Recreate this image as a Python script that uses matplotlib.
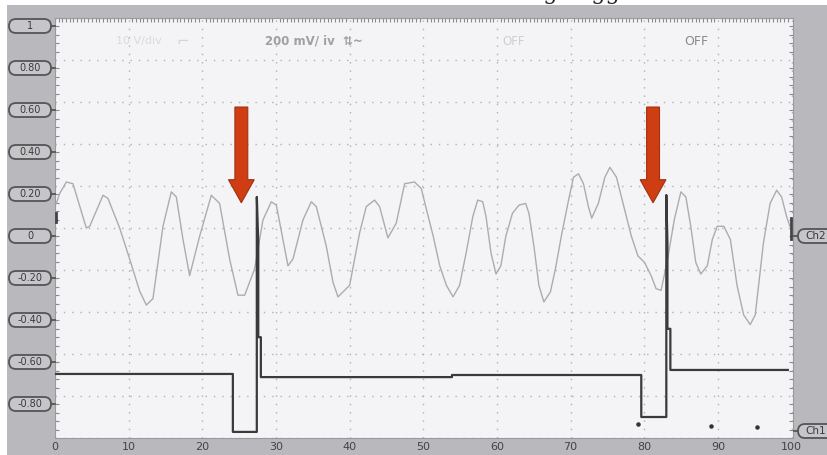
import numpy as np
import matplotlib
matplotlib.use('Agg')
import matplotlib.pyplot as plt
from matplotlib.patches import FancyBboxPatch, FancyArrow, Rectangle
from matplotlib.ticker import MultipleLocator
import matplotlib.transforms as mtransforms

W, H = 828, 455

# Ch2: light grey wavy signal (time in grid units, volts)
ch2_t = [0.18, 0.63, 1.54, 2.44, 4.25, 4.71, 6.52, 7.19, 8.78, 10.14, 11.49, 12.40, 13.30,
         14.66, 15.79, 16.47, 17.38, 18.28, 19.64, 21.22, 22.35, 23.71, 24.84, 25.75, 27.10,
         27.78, 28.24, 29.37, 30.05, 30.95, 31.63, 32.31, 33.67, 34.80, 35.48, 36.83, 37.74,
         38.42, 40.00, 41.36, 42.26, 43.39, 44.07, 45.20, 46.33, 47.47, 48.82, 49.73, 50.45,
         51.35, 52.24, 53.14, 54.04, 54.93, 55.83, 56.73, 57.40, 58.07, 58.52, 59.19, 59.87,
         60.54, 61.21, 62.11, 63.00, 63.90, 64.35, 65.02, 65.70, 66.37, 67.26, 67.94, 68.83,
         69.73, 70.40, 71.08, 71.75, 72.42, 72.87, 73.77, 74.66, 75.34, 76.23, 77.35, 78.25,
         79.15, 80.04, 80.94, 81.61, 82.29, 83.18, 84.08, 84.98, 85.65, 86.32, 87.00, 87.67,
         88.57, 89.24, 89.91, 90.81, 91.70, 92.60, 93.50, 94.39, 95.07, 96.19, 97.09, 97.98,
         98.65, 99.33, 99.78]
ch2_v = [0.117, 0.164, 0.219, 0.211, 0.0, 0.008, 0.156, 0.141, 0.0, -0.148, -0.30, -0.367, -0.336,
         0.008, 0.172, 0.148, -0.055, -0.227, -0.039, 0.156, 0.117, -0.148, -0.32, -0.32, -0.195,
         -0.055, 0.039, 0.125, 0.109, -0.055, -0.18, -0.148, 0.039, 0.125, 0.102, -0.086, -0.258,
         -0.328, -0.273, -0.023, 0.102, 0.133, 0.102, -0.047, 0.023, 0.211, 0.219, 0.188, 0.086,
         -0.039, -0.18, -0.273, -0.328, -0.273, -0.117, 0.055, 0.133, 0.125, 0.055, -0.117, -0.219,
         -0.18, -0.039, 0.070, 0.109, 0.117, 0.070, -0.086, -0.273, -0.352, -0.305, -0.195, -0.023,
         0.133, 0.242, 0.258, 0.211, 0.102, 0.047, 0.117, 0.242, 0.289, 0.242, 0.086, -0.039,
         -0.133, -0.164, -0.227, -0.289, -0.297, -0.148, 0.039, 0.172, 0.148, 0.008, -0.164, -0.219,
         -0.18, -0.055, 0.008, 0.008, -0.055, -0.273, -0.414, -0.46, -0.414, -0.07, 0.117, 0.18,
         0.148, 0.055, 0.008]

# Ch1: dark square trigger signal
ch1_t = [0, 24.15, 24.15, 27.4, 27.4, 27.6, 27.6, 27.95, 27.95, 53.9, 53.9, 79.6, 79.6,
         83.0, 83.0, 83.15, 83.15, 83.55, 83.55, 99.5]
ch1_v = [-0.695, -0.695, -0.971, -0.971, 0.148, -0.07, -0.52, -0.52, -0.71, -0.71, -0.70,
         -0.70, -0.90, -0.90, 0.157, -0.07, -0.48, -0.48, -0.676, -0.676]

dots_t = [79.1, 89.0, 95.3]
dots_v = [-0.933, -0.943, -0.948]

arrow_t = [25.3, 81.2]
ylabels = ['1', '0.80', '0.60', '0.40', '0.20', '0', '-0.20', '-0.40', '-0.60', '-0.80']
yvals = [1, 0.8, 0.6, 0.4, 0.2, 0, -0.2, -0.4, -0.6, -0.8]
xticks = list(range(0, 101, 10))

fig = plt.figure(figsize=(W / 100, H / 100), dpi=100, facecolor='white')
fig.add_artist(Rectangle((7 / W, 0), 821 / W, 450 / H, transform=fig.transFigure,
                         fc='#b9b9bd', ec='none', zorder=0))

ax = fig.add_axes([55 / W, 1 - 438 / H, 738 / W, 420 / H])
ax.set_facecolor('#f4f4f6')
ax.set_xlim(0, 100.2)
ax.set_ylim(-1, 1)
for s in ax.spines.values():
    s.set_color('#9a9a9e')
    s.set_linewidth(0.8)

ax.set_xticks(xticks)
ax.set_xticklabels([str(t) for t in xticks], fontsize=8, color='#444444')
ax.set_yticks(yvals + [-1])
ax.set_yticklabels([])
ax.tick_params(axis='both', which='major', length=0, pad=3)
ax.xaxis.set_minor_locator(MultipleLocator(0.5))
ax.yaxis.set_minor_locator(MultipleLocator(0.04))
ax.tick_params(which='minor', bottom=False, top=True, left=True, right=True,
               direction='in', length=3, width=0.8, color='#8a8a8e')
ax.grid(True, which='major', color='#b0b0b4', linestyle=(0, (1, 5)), linewidth=1)

ax.plot(ch2_t, ch2_v, color='#acacb0', lw=1.0, zorder=3)
ax.plot(ch1_t, ch1_v, color='#3a3a3a', lw=1.6, zorder=4)
ax.scatter(dots_t, dots_v, s=5, color='#333333', zorder=4)
# trace markers at the ends
ax.plot([0.15, 0.15], [0.03, 0.07], color='#444444', lw=2, zorder=5)
ax.plot([99.9, 99.9], [-0.05, 0.05], color='#444444', lw=2, zorder=5)

for t in arrow_t:
    ax.add_patch(FancyArrow(t, 0.576, 0, 0.12 - 0.576, width=1.75, head_width=3.5,
                            head_length=0.11, length_includes_head=True,
                            fc='#cf3d12', ec='#a33010', lw=0.8, zorder=6))

ax.text(8.3, 0.89, '10 V/div', fontsize=8, color='#dadadc', ha='left', va='center')
ax.text(16.5, 0.89, '\u2310', fontsize=11, color='#d4d4d6', ha='left', va='center')
ax.text(28.5, 0.89, '200 mV/ iv  \u21c5~', fontsize=8.5, color='#a0a0a4', ha='left',
        va='center', fontweight='bold')
ax.text(60.7, 0.89, 'OFF', fontsize=8.5, color='#cfcfd2', ha='left', va='center')
ax.text(85.5, 0.89, 'OFF', fontsize=9, color='#8a8a8e', ha='left', va='center')

# channel scale pills on the left and right bands
pix = mtransforms.IdentityTransform()
for v, lab in zip(yvals, ylabels):
    py = 228 - 210 * v + 8
    yc = H - py
    fig.add_artist(FancyBboxPatch((9, yc - 7), 42, 14, boxstyle='round,pad=0,rounding_size=7',
                                  transform=pix, fc='#c6c6ca', ec='#555555', lw=1.3, zorder=5))
    fig.add_artist(plt.Line2D([51, 55], [yc, yc], transform=pix, color='#555555', lw=1.3))
    fig.text(30 / W, yc / H, lab, fontsize=7, color='#3a3a3a', ha='center', va='center',
             zorder=7)

for lab, py in [('Ch2', 236), ('Ch1', 431)]:
    yc = H - py
    fig.add_artist(FancyBboxPatch((798, yc - 7), 45, 14, boxstyle='round,pad=0,rounding_size=7',
                                  transform=pix, fc='#c6c6ca', ec='#555555', lw=1.3, zorder=5))
    fig.add_artist(plt.Line2D([794, 798], [yc, yc], transform=pix, color='#555555', lw=1.3))
    fig.text(805 / W, yc / H, lab, fontsize=7.5, color='#3a3a3a', ha='left', va='center',
             zorder=7)

# caption cut off at the top of the picture
fig.text(522 / W, 1 + 1 / H, 'ing trigger', fontsize=16, family='DejaVu Serif',
         color='#222222', ha='left', va='baseline', zorder=7)

fig.savefig('out.png', dpi=100, facecolor='white')
